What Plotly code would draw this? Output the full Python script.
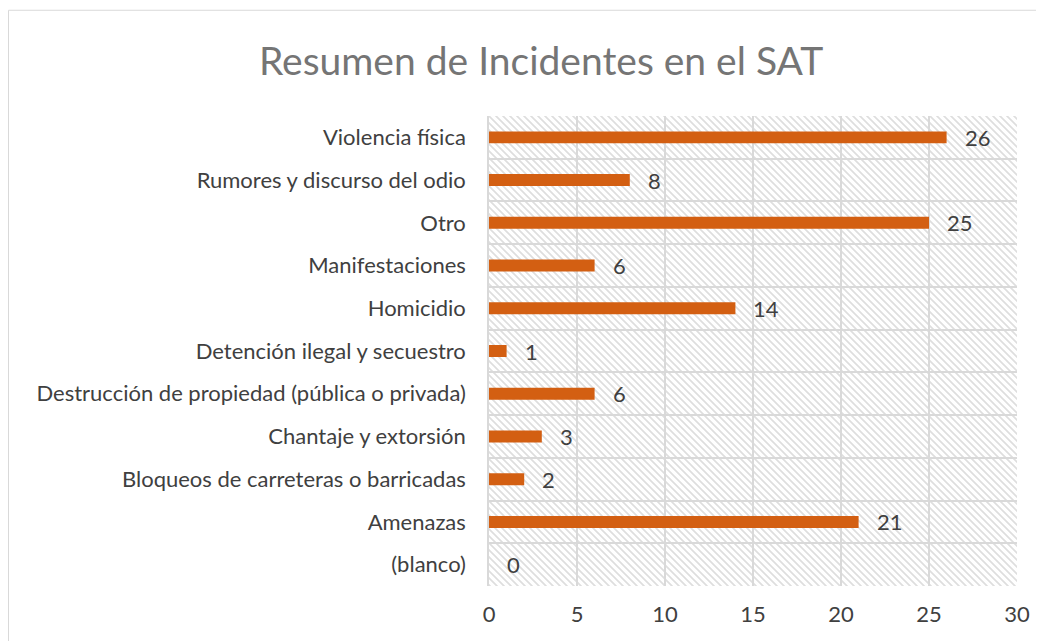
import plotly.graph_objects as go
import base64

categories = ["Violencia física", "Rumores y discurso del odio", "Otro", "Manifestaciones",
              "Homicidio", "Detención ilegal y secuestro",
              "Destrucción de propiedad (pública o privada)", "Chantaje y extorsión",
              "Bloqueos de carreteras o barricadas", "Amenazas", "(blanco)"]
values = [26, 8, 25, 6, 14, 1, 6, 3, 2, 21, 0]
x_ticks = [0, 5, 10, 15, 20, 25, 30]

cats = categories[::-1]
vals = values[::-1]

FONT = "Lato"
bar_color = "#D35F12"
TXT = "#404040"

fig = go.Figure()
fig.add_trace(go.Bar(
    y=cats, x=vals, orientation="h",
    marker=dict(color=bar_color, line=dict(width=0)),
    hoverinfo="x+y",
))

for c, v in zip(cats, vals):
    fig.add_annotation(x=v, y=c, text=str(v), showarrow=False, xanchor="left",
                       xshift=16, font=dict(family=FONT, size=22, color=TXT))

svg = ('<svg xmlns="http://www.w3.org/2000/svg" width="528" height="470">'
       '<defs><pattern id="p" width="7" height="7" patternUnits="userSpaceOnUse">'
       '<path d="M-2,-2 L9,9 M-2,5 L2,9 M5,-2 L9,2" stroke="#dedede" stroke-width="1.7"/></pattern></defs>'
       '<rect width="100%" height="100%" fill="url(#p)"/></svg>')
uri = "data:image/svg+xml;base64," + base64.b64encode(svg.encode()).decode()

fig.update_layout(
    width=1044, height=641,
    margin=dict(l=481, r=35, t=108, b=63),
    paper_bgcolor="white", plot_bgcolor="white",
    bargap=0.72,
    showlegend=False,
    title=dict(text="Resumen de Incidentes en el SAT", x=0.5106, xanchor="center",
               y=0.916, yanchor="middle",
               font=dict(family=FONT, size=39, color="#757575")),
    font=dict(family=FONT, size=22, color=TXT),
    images=[dict(source=uri, xref="paper", yref="paper", x=0, y=1, sizex=1, sizey=1,
                 xanchor="left", yanchor="top", sizing="stretch", layer="below")],
    shapes=[dict(type="rect", xref="paper", yref="paper", x0=-0.91, x1=1.2,
                 y0=-0.3, y1=1.225, line=dict(color="#d9d9d9", width=1))],
)
fig.update_xaxes(range=[0, 30], tickvals=x_ticks, showgrid=True, gridcolor="#d9d9d9",
                 gridwidth=1.5, zeroline=False, showline=False, ticks="",
                 ticklabelstandoff=13, tickfont=dict(size=22, color=TXT))
fig.update_yaxes(type="category", categoryorder="array", categoryarray=cats,
                 tickson="boundaries", showgrid=True, gridcolor="#d9d9d9", gridwidth=1.5,
                 showline=True, linecolor="#d9d9d9", linewidth=1.5, ticks="",
                 ticklabelstandoff=17, tickfont=dict(size=22, color=TXT))

fig.write_html("out.html")
